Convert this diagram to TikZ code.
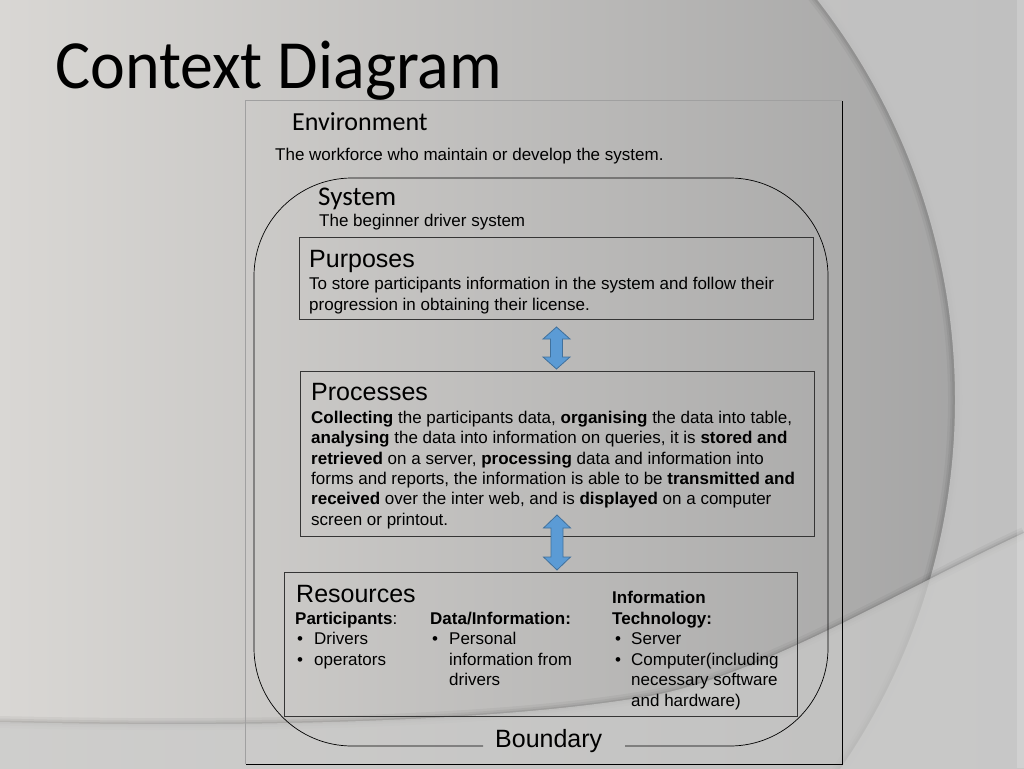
\documentclass[tikz,border=0pt]{standalone}
\usepackage{fontspec}
\setmainfont{Liberation Sans}
\newfontfamily\calib{Carlito}
\definecolor{bgL}{HTML}{D9D7D4}
\definecolor{bgR}{HTML}{A2A2A2}
\definecolor{outc}{HTML}{C6C6C6}
\definecolor{bandc}{HTML}{CBCBCA}
\definecolor{arrowfill}{HTML}{5B9BD5}
\definecolor{arrowline}{HTML}{41719C}
\definecolor{boxline}{HTML}{353535}
\definecolor{envlight}{HTML}{A0A0A0}
\tikzset{
  txt/.style={anchor=base west, inner sep=0, font=\fontsize{17}{20.4}\selectfont},
  head/.style={anchor=base west, inner sep=0, font=\fontsize{25}{30}\selectfont},
  cal/.style={anchor=base west, inner sep=0, font=\calib\fontsize{26}{30}\selectfont},
  box/.style={draw=boxline, line width=1pt, inner sep=0},
  blockarr/.style={fill=arrowfill, draw=arrowline, line width=0.8pt, line join=miter},
  bndline/.style={draw=black, line width=0.7pt},
}
\newcommand\myblockarrow[4]{% cx, top, bottom, head length
  \draw[blockarr] (#1,#2) -- (#1+13.5,#2+#4) -- (#1+6,#2+#4) -- (#1+6,#3-#4) -- (#1+13.5,#3-#4)
    -- (#1,#3) -- (#1-13.5,#3-#4) -- (#1-6,#3-#4) -- (#1-6,#2+#4) -- (#1-13.5,#2+#4) -- cycle;}
\begin{document}
\begin{tikzpicture}[x=1pt,y=-1pt]
\useasboundingbox (0,0) rectangle (1024,768);
% ---------- background ----------
\begin{scope}
  \clip (0,0) rectangle (1024,768);
  \shade[left color=bgL, right color=bgR] (0,0) rectangle (1024,768);
  % shadow inside the big arc
  \foreach \w/\o in {14/0.04,9/0.05,5/0.06}
    \draw[black, opacity=\o, line width=\w pt] (305,400) circle[radius=650pt];
  % lighter region outside the big arc
  \fill[outc, opacity=0.85, even odd rule] (-10,-10) rectangle (1034,778) (305,400) circle[radius=650pt];
  % shadow above the lower band
  \foreach \w/\o in {12/0.04,7/0.05,3/0.07}
    \draw[black, opacity=\o, line width=\w pt] (0,722) .. controls (250,728) and (500,722) .. (650,696) .. controls (760,676) and (900,590) .. (1024,533);
  % lower band
  \fill[bandc, opacity=0.72] (0,722) .. controls (250,728) and (500,722) .. (650,696) .. controls (760,676) and (900,590) .. (1024,533) -- (1034,780) -- (-10,780) -- cycle;
  % right edge light strip
  \fill[white, opacity=0.18] (1017,0) rectangle (1024,768);
\end{scope}
% ---------- title ----------
\node[anchor=base west, inner sep=0, font=\calib\fontsize{69}{72}\selectfont] (title) at (55,88) {\scalebox{0.955}[1]{Context Diagram}};
% ---------- environment box ----------
\node[inner sep=0, minimum width=596pt, minimum height=663pt] (env) at (544,432.5) {};
\draw[envlight, line width=0.8pt] (env.south west) -- (env.north west) -- (env.north east);
\draw[black, line width=1pt] (env.north east) -- (env.south east) -- (env.south west);
\node[cal] (envt) at (292,130) {Environment};
\node[txt] (envd) at (275,160) {The workforce who maintain or develop the system.};
% ---------- system boundary ----------
\coordinate (bl) at (483,746);
\coordinate (br) at (625,746);
\draw[bndline, rounded corners=98pt] (bl) -- (254,746) -- (254,178) -- (828,178) -- (828,746) -- (br);
\node[cal, font=\calib\fontsize{27}{30}\selectfont] (syst) at (318,205) {System};
\node[txt] (sysd) at (319,226) {The beginner driver system};
\node[head] (bnd) at (495,747) {Boundary};
% ---------- purposes ----------
\node[box, minimum width=514pt, minimum height=82pt] (purp) at (556,278) {};
\node[head] (purph) at (309,267) {Purposes};
\node[txt] (purp1) at (309,289) {To store participants information in the system and follow their};
\node[txt] (purp2) at (309,310) {progression in obtaining their license.};
% ---------- processes ----------
\node[box, minimum width=514pt, minimum height=165pt] (proc) at (557,453.5) {};
\node[head] (proch) at (311,400) {Processes};
\node[txt] (proc1) at (311,423) {\textbf{Collecting} the participants data, \textbf{organising} the data into table,};
\node[txt] (proc2) at (311,443.5) {\textbf{analysing} the data into information on queries, it is \textbf{stored and}};
\node[txt] (proc3) at (311,464) {\textbf{retrieved} on a server, \textbf{processing} data and information into};
\node[txt] (proc4) at (311,484) {forms and reports, the information is able to be \textbf{transmitted and}};
\node[txt] (proc5) at (311,504.5) {\textbf{received} over the inter web, and is \textbf{displayed} on a computer};
\node[txt] (proc6) at (311,525) {screen or printout.};
% ---------- resources ----------
\node[box, minimum width=513pt, minimum height=144pt] (res) at (540.5,644) {};
\node[head] (resh) at (296,602) {Resources};
\node[txt] (rp) at (295,624) {\textbf{Participants}:};
\node[txt] (rpb1) at (297,644) {•};
\node[txt] (rp1) at (314,644) {Drivers};
\node[txt] (rpb2) at (297,665) {•};
\node[txt] (rp2) at (314,665) {operators};
\node[txt] (rd) at (430,624) {\textbf{Data/Information:}};
\node[txt] (rdb1) at (432,644) {•};
\node[txt] (rd1) at (449,644) {Personal};
\node[txt] (rd2) at (449,665) {information from};
\node[txt] (rd3) at (449,685) {drivers};
\node[txt] (ri) at (612,603) {\textbf{Information}};
\node[txt] (ri0) at (612,624) {\textbf{Technology:}};
\node[txt] (rib1) at (615,644) {•};
\node[txt] (ri1) at (631,644) {Server};
\node[txt] (rib2) at (615,665) {•};
\node[txt] (ri2) at (631,665) {Computer(including};
\node[txt] (ri3) at (631,685) {necessary software};
\node[txt] (ri4) at (631,706) {and hardware)};
% ---------- arrows ----------
\myblockarrow{556.5}{327}{369}{12}
\myblockarrow{557}{515}{570}{13}
\end{tikzpicture}
\end{document}
